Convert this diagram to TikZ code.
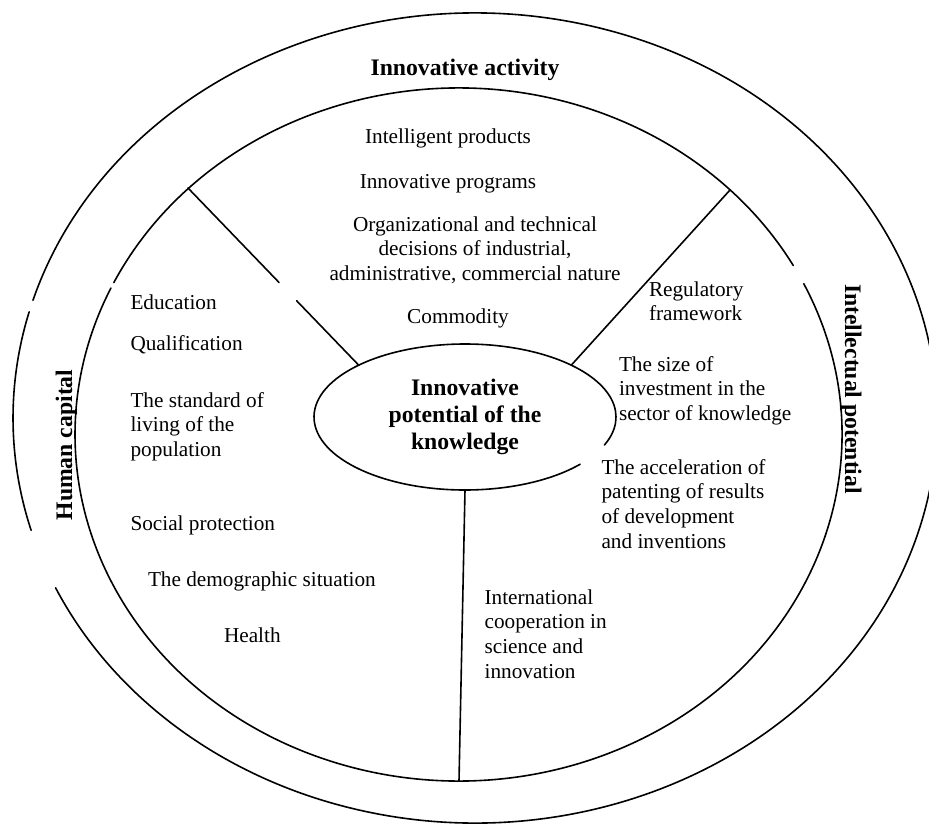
\documentclass[tikz,border=0pt]{standalone}
\usepackage{fontspec}
\setmainfont{Liberation Serif}
\usetikzlibrary{calc,shapes.geometric}
\newcommand\blockL[1]{\vtop{\halign{##\hfil\cr#1\crcr}}}
\newcommand\blockC[1]{\vtop{\halign{\hfil##\hfil\cr#1\crcr}}}
\tikzset{
  ln/.style={line width=1.6pt, line cap=round},
  txt/.style={inner sep=0pt, outer sep=0pt, font=\fontsize{21.25}{24.8}\selectfont},
  ttl/.style={inner sep=0pt, outer sep=0pt, font=\fontsize{23.7}{26.7}\selectfont\bfseries},
  corestyle/.style={ellipse, inner sep=0pt, outer sep=0pt, minimum width=302pt, minimum height=146pt,
    font=\fontsize{23.7}{26.7}\selectfont\bfseries}
}
\begin{document}
\begin{tikzpicture}[x=1pt,y=-1pt]
\useasboundingbox (0,0) rectangle (929,827);
\clip (0,0) rectangle (929,827);
% outer ring
\draw[ln] ([shift={(163.9:462 and 405)}]475,418) arc[start angle=163.9, end angle=195.2, x radius=462, y radius=405];
\draw[ln] ([shift={(196.9:462 and 405)}]475,418) arc[start angle=196.9, end angle=515.2, x radius=462, y radius=405];
% inner ring
\draw[ln] ([shift={(206:383.5 and 346.5)}]458.5,434.5) arc[start angle=206, end angle=330.8, x radius=383.5, y radius=346.5];
\draw[ln] ([shift={(334.2:383.5 and 346.5)}]458.5,434.5) arc[start angle=334.2, end angle=565, x radius=383.5, y radius=346.5];
% core
\node[corestyle] (core) at (465,417) {\blockC{Innovative\cr potential of the\cr knowledge}};
\draw[ln] ([shift={(40.3:151 and 73)}]core.center) arc[start angle=40.3, end angle=382.5, x radius=151, y radius=73];
% spokes
\coordinate (tl) at (188,188);
\coordinate (tr) at (730,190);
\coordinate (bt) at (459,781);
\draw[ln] (tl) -- ($(tl)!0.534!(core.154)$);
\draw[ln] ($(tl)!0.636!(core.154)$) -- (core.154);
\draw[ln] (tr) -- (core.26);
\draw[ln] (core.south) -- (bt);
% titles
\node[ttl, anchor=base] (ia) at (465,75) {Innovative activity};
\node[ttl, anchor=base, rotate=90] (hc) at (72,445) {Human capital};
\node[ttl, anchor=base, rotate=-90] (ip) at (845,389) {Intellectual potential};
% top sector
\node[txt, anchor=base] (t1) at (448,143) {Intelligent products};
\node[txt, anchor=base] (t2) at (448,188) {Innovative programs};
\node[txt, anchor=base] (t3) at (475,231) {\blockC{Organizational and technical\cr decisions of industrial,\cr administrative, commercial nature}};
\node[txt, anchor=base] (t4) at (458,323) {Commodity};
% left sector
\node[txt, anchor=base west] (l1) at (130.5,309) {Education};
\node[txt, anchor=base west] (l2) at (130.5,350.5) {Qualification};
\node[txt, anchor=base west] (l3) at (130.5,407) {\blockL{The standard of\cr living of the\cr population}};
\node[txt, anchor=base west] (l4) at (130.5,530) {Social protection};
\node[txt, anchor=base west] (l5) at (148,586) {The demographic situation};
\node[txt, anchor=base west] (l6) at (224,642) {Health};
% right sector
\node[txt, anchor=base west] (r1) at (649,296) {\blockL{Regulatory\cr framework}};
\node[txt, anchor=base west] (r2) at (619,371) {\blockL{The size of\cr investment in the\cr sector of knowledge}};
\node[txt, anchor=base west] (r3) at (601.5,474) {\blockL{The acceleration of\cr patenting of results\cr of development\cr and inventions}};
\node[txt, anchor=base west] (r4) at (484.6,604) {\blockL{International\cr cooperation in\cr science and\cr innovation}};
\end{tikzpicture}
\end{document}
